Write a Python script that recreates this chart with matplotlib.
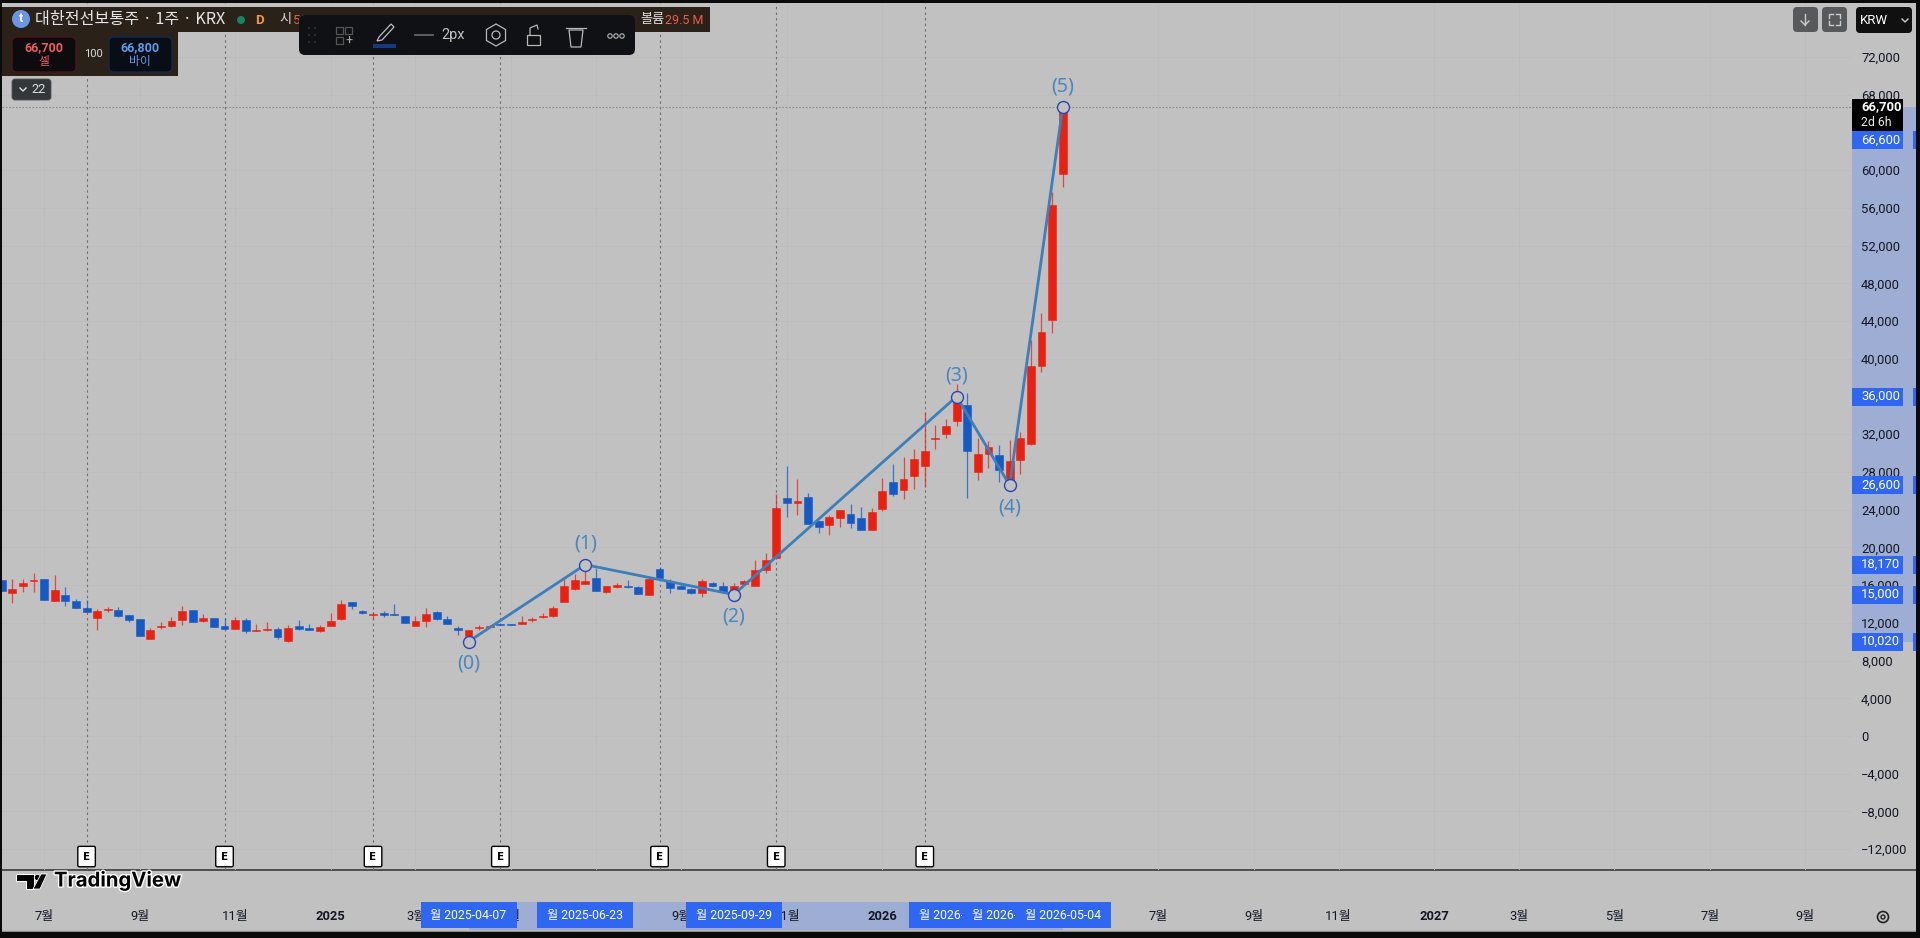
import matplotlib
matplotlib.use("Agg")
import matplotlib.pyplot as plt
import matplotlib.patheffects as pe
import matplotlib.transforms as mt
from matplotlib.patches import Rectangle, FancyBboxPatch, Circle, Polygon, RegularPolygon

plt.rcParams['font.family'] = ['Roboto', 'Noto Sans CJK KR', 'DejaVu Sans']

# ---------------- data ----------------
opens = [16550,15130,15910,16400,16610,14350,14990,14320,13610,12550,13360,13360,12830,12370,10320,11520,11660,12340,13330,12160,12480,11660,11380,12270,11170,11240,11380,10110,11630,11420,11170,11700,12410,14170,13260,12830,13010,12970,12690,11700,12230,13110,12370,11490,10640,11420,11560,11840,11840,11880,12270,12620,12720,14250,15620,16120,16790,15270,15840,15940,15800,14990,17670,16440,15910,15550,15130,16260,15870,15310,16150,15940,17600,18840,25200,24740,25310,22760,22370,23150,23540,23080,21880,24070,26900,26120,27570,28670,31490,32020,33440,35060,28000,29870,29760,26970,29230,30930,39230,44080,59630]
highs = [16550,16680,16610,17250,16680,17070,15770,14490,14420,13430,13640,13710,12830,12370,11420,12120,12580,13790,13360,12940,12550,12550,12620,12550,11880,12090,11560,11730,12300,11840,11730,13080,14390,14170,13360,13180,13290,13960,12720,12690,13540,13260,12720,11660,11240,11740,11770,11840,11840,12720,12650,13010,13790,16830,17180,18170,17780,15910,16190,16540,15910,16970,17960,16650,16120,15660,16680,16370,16330,16190,16540,18660,19440,25660,28670,27220,25730,22760,23400,24000,24600,24320,24140,27320,28840,29550,30400,34390,32980,33620,37290,36340,31640,31280,30860,31390,32240,41990,44820,57720,66800]
lows = [15400,14070,15270,15310,14390,14350,13820,13610,13180,11200,13180,12620,12050,10640,10320,11380,11590,11770,12120,12090,11590,11380,11310,10960,11170,11170,10320,9970,11280,11200,11060,11660,12270,13500,12970,12440,12650,12870,11980,11660,11590,12270,11880,10740,10100,11240,11520,11770,11730,11880,12090,12510,12580,14210,15480,16120,15410,15160,15660,15730,15060,14950,16750,15200,15620,15060,14770,15760,15230,15000,16120,15910,17250,18730,23260,23430,22440,21560,21350,22200,22060,21880,21880,23890,25480,25130,26230,26440,30400,31560,32910,25200,27150,28450,26970,26620,27780,30860,38630,42770,58250]
closes = [15400,15590,16260,16540,14390,15450,14280,13610,13180,13290,13470,12720,12270,10640,11240,11630,12230,13260,12120,12480,11590,11380,12340,11170,11240,11310,10500,11490,11310,11200,11590,12230,14000,13750,13040,12900,12870,12870,12020,12230,12940,12440,11910,11200,11240,11520,11700,11780,11740,12120,12370,12760,13610,15910,16540,16400,15410,15910,15980,15770,15090,16650,16750,15730,15620,15130,16440,15910,15230,15910,16470,17570,18630,24180,24710,24920,22440,22200,23220,24000,22620,21880,23750,26010,25700,27250,29370,30220,31600,32870,35630,30220,29940,30650,28200,29200,31640,39230,42840,56270,66700]

wave_idx = [44, 55, 69, 90, 95, 100]
wave_price = [10020, 18170, 15000, 36000, 26600, 66700]
wave_names = ['(0)', '(1)', '(2)', '(3)', '(4)', '(5)']
wave_label_offset = [-22, 21, -22, 21, -22, 21]

earnings_idx = [8, 21, 35, 47, 62, 73, 87]

y_ticks = [-12000, -8000, -4000, 0, 4000, 8000, 12000, 16000, 20000, 24000, 28000,
           32000, 40000, 44000, 48000, 52000, 56000, 60000, 68000, 72000]
x_tick_idx = [4, 13, 22, 31, 39, 48, 56, 64, 74, 83, 109, 118, 126, 135, 143, 152, 161, 170]
x_tick_labels = ['7월', '9월', '11월', '2025', '3월', '5월', '7월', '9월', '11월', '2026',
                 '7월', '9월', '11월', '2027', '3월', '5월', '7월', '9월']

axis_prices = [36000, 26600, 18170, 15000, 10020]
axis_price_labels = ['36,000', '26,600', '18,170', '15,000', '10,020']
date_idx = [44, 55, 69, 90, 95, 100]
date_labels = ['월 2025-04-07', '월 2025-06-23', '월 2025-09-29',
               '월 2026-02-23', '월 2026-03-30', '월 2026-05-04']

# ---------------- layout ----------------
W, H = 1920, 938
BG = '#c1c1c1'
GRID = '#bdbdbd'
RED = '#ea2010'
BLUE = '#1459c4'
TAG = '#2f66f2'
BAND = '#9eadd4'
WAVE = '#3d7fba'
WAVE_TXT = '#4a86bf'

fig = plt.figure(figsize=(W / 100, H / 100), dpi=100, facecolor='black')

under = fig.add_axes([0, 0, 1, 1], zorder=0)
under.set_xlim(0, W); under.set_ylim(H, 0); under.axis('off')

L, R, T, B = 2, 1852, 3, 870
ax = fig.add_axes([L / W, 1 - B / H, (R - L) / W, (B - T) / H], zorder=1)
ax.patch.set_alpha(0)
X0, STEP = 1.7, 10.61
ax.set_xlim((L - X0) / STEP, (R - X0) / STEP)
ax.set_ylim((736 - B) / 9.43 * 1000, (736 - T) / 9.43 * 1000)

over = fig.add_axes([0, 0, 1, 1], zorder=2)
over.set_xlim(0, W); over.set_ylim(H, 0); over.axis('off'); over.patch.set_alpha(0)

# backgrounds
under.add_patch(Rectangle((L, T), 1914, 928, fc=BG, ec='none'))
under.plot([L, 1916], [870, 870], color='#3a3a3a', lw=1.2)

# highlighted ranges on the axes
y_band = mt.blended_transform_factory(under.transData, ax.transData)
under.add_patch(Rectangle((R, min(wave_price)), 1916 - R, max(wave_price) - min(wave_price),
                          transform=y_band, fc=BAND, ec='none'))
x_band = mt.blended_transform_factory(ax.transData, under.transData)
under.add_patch(Rectangle((wave_idx[0], 902), wave_idx[-1] - wave_idx[0], 28,
                          transform=x_band, fc=BAND, ec='none'))

# grid + axes
for s in ax.spines.values():
    s.set_visible(False)
ax.set_yticks(y_ticks)
ax.set_yticklabels([f'{v:,}'.replace('-', '−') for v in y_ticks], fontsize=9.4, color='#131722')
ax.yaxis.tick_right()
ax.tick_params(axis='y', length=0, pad=6.5)
ax.set_xticks(x_tick_idx)
ax.set_xticklabels(x_tick_labels, fontsize=9.3, color='#131722')
ax.tick_params(axis='x', length=0, pad=29)
for lab in ax.get_xticklabels():
    if lab.get_text().startswith('20'):
        lab.set_fontweight('bold')
ax.grid(True, color=GRID, lw=0.6, zorder=0)
ax.set_axisbelow(True)

# earnings lines
for i in earnings_idx:
    ax.axvline(i, color='#6e6e6e', lw=0.8, ls=(0, (2.2, 2.8)), zorder=1)

# last price line
ax.axhline(closes[-1], color='#8c8c8c', lw=0.8, ls=(0, (1.5, 1.5)), zorder=1)

# candles
for i in range(len(opens)):
    c = RED if closes[i] >= opens[i] else BLUE
    ax.vlines(i, lows[i], highs[i], color=c, lw=0.9, alpha=0.75, zorder=2)
    ax.bar(i, abs(closes[i] - opens[i]), bottom=min(opens[i], closes[i]), width=0.74,
           color=c, edgecolor=c, linewidth=0.4, zorder=3)

# wave pattern
ax.plot(wave_idx, wave_price, color=WAVE, lw=2.0, zorder=4, solid_capstyle='round')
ax.plot(wave_idx, wave_price, ls='none', marker='o', ms=8.6, mfc=BG, mec='#2a46b4', mew=1.0, zorder=5)
for i, p, n, off in zip(wave_idx, wave_price, wave_names, wave_label_offset):
    ax.annotate(n, (i, p), xytext=(0, off * 0.72), textcoords='offset points', ha='center', va='center',
                fontsize=14, color=WAVE_TXT, zorder=6, family=['Noto Sans', 'DejaVu Sans'])

# earnings markers
for i in earnings_idx:
    ax.plot([i, i], [0.022, 0.027], transform=ax.get_xaxis_transform(), color='#444444', lw=0.8, zorder=5)
    ax.text(i, 0.0155, 'E', transform=ax.get_xaxis_transform(), ha='center', va='center',
            fontsize=7.5, fontweight='bold', color='black', zorder=6, family=['DejaVu Sans'],
            bbox=dict(boxstyle='round,pad=0.5,rounding_size=0.15', fc='white', ec='black', lw=1.0))

# price tags
tag_tr = mt.blended_transform_factory(over.transData, ax.transData)
TAG_H = 18 / 9.43 * 1000
for p, s in zip(axis_prices, axis_price_labels):
    over.add_patch(Rectangle((R, p - TAG_H / 2), 51, TAG_H, transform=tag_tr, fc=TAG, ec='none'))
    over.add_patch(Rectangle((1913, p - TAG_H / 2), 3, TAG_H, transform=tag_tr, fc=TAG, ec='none'))
    over.text(1861, p, s, transform=tag_tr, color='white', fontsize=9.4, ha='left', va='center')

over.add_patch(Rectangle((R, 131), 51, 18, fc=TAG, ec='none'))
over.add_patch(Rectangle((1913, 131), 3, 18, fc=TAG, ec='none'))
over.text(1861, 140, '66,600', color='white', fontsize=9.4, ha='left', va='center')
over.add_patch(Rectangle((R, 99), 51, 32, fc='black', ec='none'))
over.text(1861, 107, '66,700', color='white', fontsize=9.4, ha='left', va='center', fontweight='bold')
over.text(1861, 122, '2d 6h', color='#e8e8e8', fontsize=8.8, ha='left', va='center')

# date tags on the time axis
date_tr = mt.blended_transform_factory(ax.transData, over.transData)
BOX_W = 96 / STEP
for k, (i, s) in enumerate(zip(date_idx, date_labels)):
    over.add_patch(Rectangle((i - BOX_W / 2, 902), BOX_W, 26, transform=date_tr, fc=TAG, ec='none', zorder=3 + k))
    over.text(i, 916, s, transform=date_tr, color='white', fontsize=8.8, ha='center', va='center',
              zorder=3 + k + 0.5, clip_on=True)

# frame
for r in [(0, 0, W, 3), (0, 0, 2, H), (1916, 0, 4, H), (0, 932, W, 6)]:
    over.add_patch(Rectangle(r[:2], r[2], r[3], fc='#0a0a0a', ec='none', zorder=40))
over.plot([2, 1916], [930.8, 930.8], color='#8f8f8f', lw=1.0, zorder=39)

# TradingView logo
over.add_patch(Polygon([(16, 874), (34, 874), (34, 889), (26, 889), (26, 881), (16, 881)], fc='black', ec='white', lw=0.8, zorder=20))
over.add_patch(Circle((37.5, 877.5), 3.2, fc='black', ec='white', lw=0.6, zorder=20))
over.add_patch(Polygon([(41, 874), (47, 874), (40, 889), (33, 889)], fc='black', ec='white', lw=0.6, zorder=20))
over.text(54, 881, 'TradingView', fontsize=14.6, fontweight='bold', color='black', va='center', ha='left', zorder=21,
          family=['Inter', 'DejaVu Sans'], path_effects=[pe.withStroke(linewidth=2.0, foreground='white')])

# gear
over.add_patch(Circle((1883, 917), 5.5, fc='none', ec='#222222', lw=1.2, zorder=20))
over.add_patch(Circle((1883, 917), 2, fc='none', ec='#222222', lw=1.0, zorder=20))

# header
HEAD = '#2a2119'
over.add_patch(Rectangle((2, 7), 708, 25, fc=HEAD, ec='none', zorder=10))
over.add_patch(Rectangle((2, 32), 176, 44, fc=HEAD, ec='none', zorder=10))
over.add_patch(Circle((21, 19), 9, fc='#6c96e4', ec='none', zorder=11))
over.text(21, 19, 't', color='white', fontsize=9, ha='center', va='center', fontweight='bold', zorder=12)
over.text(35, 19.5, '대한전선보통주 · 1주 · KRX', color='#e6e6e6', fontsize=11.6, ha='left', va='center', zorder=12,
          family=['Noto Sans CJK KR', 'DejaVu Sans'])
over.add_patch(Circle((241, 20), 4, fc='#13875f', ec='none', zorder=12))
over.text(260, 20, 'D', color='#f09a36', fontsize=9.5, fontweight='bold', ha='center', va='center', zorder=12)
over.text(279, 20, '시', color='#dddddd', fontsize=9.5, ha='left', va='center', zorder=12, family=['Noto Sans CJK KR'])
over.text(293, 20, '51', color='#f05a4a', fontsize=9.5, ha='left', va='center', zorder=12)
over.text(640, 20, '볼륨', color='#dddddd', fontsize=9.5, ha='left', va='center', zorder=12, family=['Noto Sans CJK KR'])
over.text(665, 20, '29.5 M', color='#f05a4a', fontsize=9, ha='left', va='center', zorder=12)

over.add_patch(FancyBboxPatch((12, 37), 64, 35, boxstyle='round,pad=0,rounding_size=5', fc='#0d0b0d', ec='#4a1518', lw=1, zorder=11))
over.add_patch(FancyBboxPatch((109, 37), 63, 35, boxstyle='round,pad=0,rounding_size=5', fc='#090d16', ec='#14294e', lw=1, zorder=11))
over.text(44, 48, '66,700', color='#ef5a5f', fontsize=9, ha='center', va='center', fontweight='bold', zorder=12)
over.text(44, 62, '셀', color='#ef5a5f', fontsize=8.5, ha='center', va='center', zorder=12, family=['Noto Sans CJK KR'])
over.text(140, 48, '66,800', color='#5b9bee', fontsize=9, ha='center', va='center', fontweight='bold', zorder=12)
over.text(140, 62, '바이', color='#5b9bee', fontsize=8.5, ha='center', va='center', zorder=12, family=['Noto Sans CJK KR'])
over.text(93, 54, '100', color='#dddddd', fontsize=8, ha='center', va='center', zorder=12)

over.add_patch(FancyBboxPatch((12, 79), 39, 21, boxstyle='round,pad=0,rounding_size=3', fc='#33373a', ec='#555555', lw=0.6, zorder=11))
over.plot([20, 23, 26], [88, 91, 88], color='#dddddd', lw=1, zorder=12)
over.text(39, 89.5, '22', color='#dddddd', fontsize=9.3, ha='center', va='center', zorder=12)

# floating toolbar
over.add_patch(FancyBboxPatch((299, 15), 336, 40, boxstyle='round,pad=0,rounding_size=6', fc='#101114', ec='none', zorder=13))
for dx in (0, 6):
    for dy in (0, 7, 14):
        over.add_patch(Circle((309 + dx, 28 + dy), 0.8, fc='#444444', ec='none', zorder=14))
for (x, y) in [(336, 27), (345, 27), (336, 37)]:
    over.add_patch(Rectangle((x, y), 7, 7, fc='none', ec='#555555', lw=0.9, zorder=14))
over.text(349, 41, '+', color='#b0b0b0', fontsize=9, ha='center', va='center', zorder=14)
over.add_patch(Polygon([(379, 37), (391, 24), (394, 27), (382, 40), (377, 41)], fc='none', ec='#bdbdbd', lw=0.9, zorder=14))
over.add_patch(Rectangle((373, 44), 23, 4, fc='#123a80', ec='none', zorder=14))
over.plot([415, 433], [35, 35], color='#666666', lw=1.3, zorder=14)
over.text(453, 35, '2px', color='#c4c4c4', fontsize=10.5, ha='center', va='center', zorder=14)
over.add_patch(RegularPolygon((496, 35), 6, radius=11, orientation=0, fc='none', ec='#b8b8b8', lw=0.9, zorder=14))
over.add_patch(Circle((496, 35), 4, fc='none', ec='#b8b8b8', lw=0.9, zorder=14))
over.add_patch(Rectangle((527, 35), 13, 10, fc='none', ec='#b8b8b8', lw=0.9, zorder=14))
over.plot([530, 530, 537, 538], [35, 28, 25, 29], color='#b8b8b8', lw=0.9, zorder=14)
over.add_patch(Polygon([(569, 30), (583, 30), (581, 47), (571, 47)], fc='none', ec='#b8b8b8', lw=0.9, zorder=14))
over.plot([566, 586], [28, 28], color='#b8b8b8', lw=0.9, zorder=14)
for x in (610, 616, 622):
    over.add_patch(Circle((x, 36), 2.2, fc='none', ec='#b8b8b8', lw=0.8, zorder=14))

# top-right buttons
for x in (1793, 1822):
    over.add_patch(FancyBboxPatch((x, 7), 25, 25, boxstyle='round,pad=0,rounding_size=4', fc='#58595b', ec='none', zorder=11))
over.plot([1805, 1805], [14, 25], color='#cccccc', lw=1.0, zorder=12)
over.plot([1801, 1805, 1809], [21, 25, 21], color='#cccccc', lw=1.0, zorder=12)
for xs, ys in [([1829, 1829, 1833], [18, 14, 14]), ([1836, 1840, 1840], [14, 14, 18]),
               ([1829, 1829, 1833], [21, 25, 25]), ([1836, 1840, 1840], [25, 25, 21])]:
    over.plot(xs, ys, color='#cccccc', lw=1.0, zorder=12)
over.add_patch(FancyBboxPatch((1856, 7), 56, 26, boxstyle='round,pad=0,rounding_size=4', fc='#101010', ec='none', zorder=11))
over.text(1860, 20, 'KRW', color='white', fontsize=9.5, ha='left', va='center', zorder=12)
over.plot([1902, 1905, 1908], [19, 22, 19], color='#cccccc', lw=1, zorder=12)

fig.savefig('out.png', dpi=100, facecolor='black')
